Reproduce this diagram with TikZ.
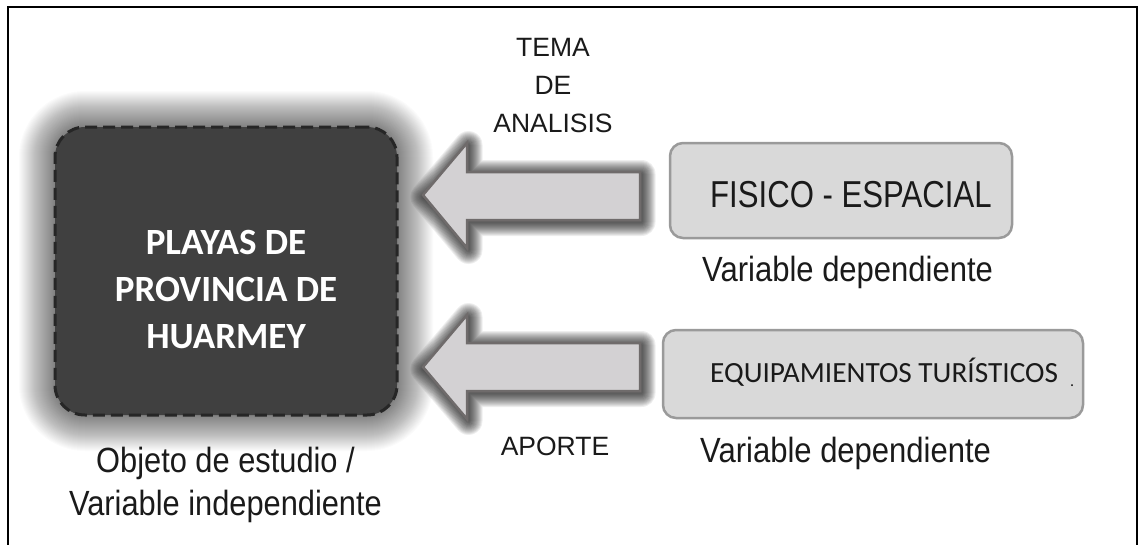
\documentclass[tikz,border=0pt]{standalone}
\usepackage{graphicx}
\usepackage{fontspec}
\setmainfont{Liberation Sans}
\newfontfamily\calibri{Carlito}
\definecolor{darkfill}{HTML}{404040}
\definecolor{darkline}{HTML}{262626}
\definecolor{arrowfill}{HTML}{D3D1D3}
\definecolor{arrowline}{HTML}{6F6B6B}
\definecolor{boxfill}{HTML}{D9D9D9}
\definecolor{boxline}{HTML}{9A9A9A}
\definecolor{txt}{HTML}{1A1A1A}
\tikzset{
  objbox/.style={draw=darkline, fill=darkfill, line width=3pt, dash pattern=on 12pt off 6pt,
    rounded corners=30pt, minimum width=342pt, minimum height=288pt, inner sep=0pt},
  objtext/.style={text=white, align=center, inner sep=0pt,
    font=\calibri\bfseries\fontsize{37}{47}\selectfont},
  blockarrow/.style={draw=arrowline, fill=arrowfill, line width=2.5pt, line join=miter},
  glowline/.style={draw=black, line join=round},
  varbox/.style={draw=boxline, fill=boxfill, line width=2.5pt, rounded corners=13pt, inner sep=0pt},
  armtext/.style={text=txt, inner sep=0pt, font=\fontsize{26.5}{38}\selectfont, align=center},
  vartext/.style={text=txt, inner sep=0pt, anchor=base west}
}
\begin{document}
\begin{tikzpicture}[x=1pt,y=-1pt]
\useasboundingbox (0,0) rectangle (1139,544);
\clip (0,0) rectangle (1139,544);
\fill[white] (0,0) rectangle (1139,544);
\draw[line width=2.2pt] (8,7) rectangle (1137,580);

% glow of the central object
\coordinate (objnw) at (55,127);
\coordinate (objse) at (397,415);
\foreach \i in {1,...,36} {
  \pgfmathsetmacro\w{2*\i}
  \draw[glowline, opacity=0.017, line width=\w pt, rounded corners=30pt] (objnw) rectangle (objse);
}
% shadows of block arrows
\foreach \i in {1,...,14} {
  \pgfmathsetmacro\w{2*\i}
  \draw[glowline, opacity=0.065, line width=\w pt, xshift=1.5pt, yshift=-2pt]
    (423,195) -- (467,143) -- (467,172) -- (640,172) -- (640,220) -- (467,220) -- (467,248) -- cycle;
  \draw[glowline, opacity=0.065, line width=\w pt, xshift=1.5pt, yshift=-2pt]
    (423,367) -- (467,315) -- (467,343) -- (640,343) -- (640,391) -- (467,391) -- (467,419) -- cycle;
}

% central object
\node[objbox] (obj) at (226,271) {};
\node[objtext] (objtxt) at (226,289.5) {PLAYAS DE\\PROVINCIA DE\\HUARMEY};
\node[text=txt, inner sep=0pt, align=center, font=\fontsize{35}{43}\selectfont] (objlab) at (225.5,484.5)
  {\scalebox{0.88}[1]{Objeto de estudio /}\\\scalebox{0.88}[1]{Variable independiente}};

% block arrows
\coordinate (a1tip) at (423,195);
\draw[blockarrow] (a1tip) -- (467,143) -- (467,172) -- (640,172) -- (640,220) -- (467,220) -- (467,248) -- cycle;
\coordinate (a2tip) at (423,367);
\draw[blockarrow] (a2tip) -- (467,315) -- (467,343) -- (640,343) -- (640,391) -- (467,391) -- (467,419) -- cycle;

\node[armtext] (tema) at (553,86) {TEMA\\DE\\ANALISIS};
\node[armtext, anchor=base] (aporte) at (555,455) {APORTE};

% right boxes
\node[varbox, minimum width=342pt, minimum height=95pt] (fis) at (841,190.5) {};
\node[vartext, font=\fontsize{37.5}{40}\selectfont] (fistxt) at (710,207) {\scalebox{0.83}[1]{FISICO - ESPACIAL}};
\node[vartext, font=\fontsize{35}{38}\selectfont] (fisdep) at (702,281) {\scalebox{0.886}[1]{Variable dependiente}};

\node[varbox, minimum width=420pt, minimum height=88pt] (equ) at (873,374) {};
\node[vartext, font=\calibri\fontsize{29.3}{32}\selectfont] (equtxt) at (710,382) {EQUIPAMIENTOS TURÍSTICOS};
\node[vartext, font=\calibri\fontsize{16}{18}\selectfont] (equdot) at (1070,386) {.};
\node[vartext, font=\fontsize{35}{38}\selectfont] (equdep) at (700,462) {\scalebox{0.886}[1]{Variable dependiente}};
\end{tikzpicture}
\end{document}
